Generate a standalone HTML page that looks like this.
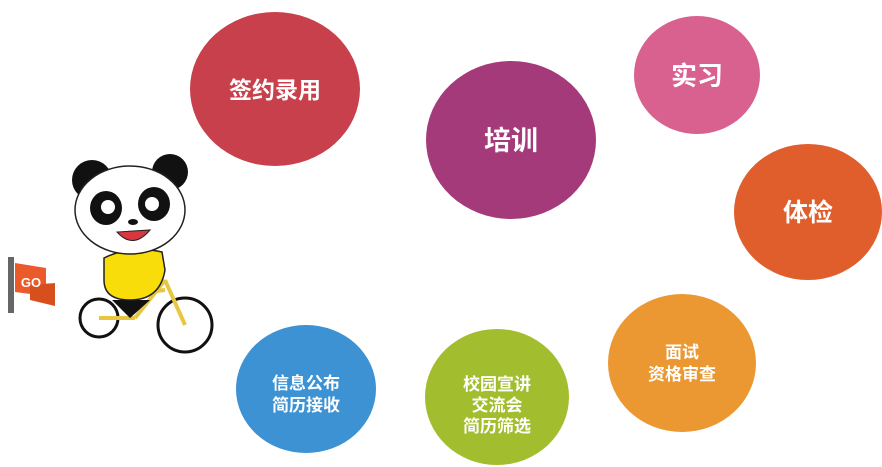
<!DOCTYPE html>
<html><head><meta charset="utf-8"><style>
html,body{margin:0;padding:0;background:#fff;width:882px;height:467px;overflow:hidden}
svg text{font-family:"Liberation Sans","Noto Sans CJK SC",sans-serif;font-weight:bold;fill:#fff;text-anchor:middle}
</style></head><body>
<svg width="882" height="467" viewBox="0 0 882 467">
<ellipse cx="275" cy="89" rx="85" ry="77" fill="#c8404b"/>
<text x="275" y="98" font-size="23">签约录用</text>
<ellipse cx="511" cy="140" rx="85" ry="79" fill="#a43a7a"/>
<text x="511" y="150" font-size="27">培训</text>
<ellipse cx="697" cy="75" rx="63" ry="59" fill="#d9618f"/>
<text x="697" y="85" font-size="26">实习</text>
<ellipse cx="808" cy="212" rx="74" ry="68" fill="#e05d2c"/>
<text x="808" y="221" font-size="25">体检</text>
<ellipse cx="682" cy="363" rx="74" ry="69" fill="#eb9833"/>
<text x="682" y="358" font-size="17">面试</text>
<text x="682" y="380" font-size="17">资格审查</text>
<ellipse cx="497" cy="397" rx="72" ry="68" fill="#a2bd2d"/>
<text x="497" y="390" font-size="17">校园宣讲</text>
<text x="497" y="411" font-size="17">交流会</text>
<text x="497" y="432" font-size="17">简历筛选</text>
<ellipse cx="306" cy="389" rx="70" ry="64" fill="#3c92d3"/>
<text x="306" y="389" font-size="17">信息公布</text>
<text x="306" y="411" font-size="17">简历接收</text>
<!-- flag -->
<rect x="8" y="257" width="6" height="56" fill="#666"/>
<polygon points="15,263 46,268 46,296 15,292" fill="#ea5a2a"/>
<polygon points="30,285 55,283 55,306 30,300" fill="#d84f1e"/>
<text x="31" y="287" font-size="13">GO</text>
<!-- bike -->
<g fill="none" stroke="#111" stroke-width="3">
<circle cx="99" cy="318" r="19"/>
<circle cx="185" cy="325" r="27"/>
</g>
<g stroke="#e8c640" stroke-width="4" fill="none">
<line x1="99" y1="318" x2="135" y2="318"/>
<line x1="135" y1="318" x2="165" y2="280"/>
<line x1="165" y1="280" x2="185" y2="325"/>
<line x1="120" y1="295" x2="165" y2="290"/>
</g>
<!-- body -->
<path d="M112 300 L130 318 L150 300 Z" fill="#111"/>
<path d="M104 258 Q130 245 162 252 L165 270 Q160 300 130 300 Q104 300 104 280 Z" fill="#f9dd0a" stroke="#222" stroke-width="1.5"/>
<!-- head -->
<circle cx="92" cy="180" r="20" fill="#111"/>
<circle cx="170" cy="172" r="18" fill="#111"/>
<ellipse cx="130" cy="210" rx="55" ry="44" fill="#fff" stroke="#222" stroke-width="1.5"/>
<ellipse cx="106" cy="208" rx="16" ry="17" fill="#111"/>
<ellipse cx="154" cy="204" rx="16" ry="17" fill="#111"/>
<circle cx="108" cy="207" r="7" fill="#fff"/>
<circle cx="152" cy="204" r="7" fill="#fff"/>
<ellipse cx="133" cy="222" rx="5" ry="3" fill="#111"/>
<path d="M117 232 Q133 250 150 230 Z" fill="#d9363e" stroke="#222"/>
</svg>
</body></html>
